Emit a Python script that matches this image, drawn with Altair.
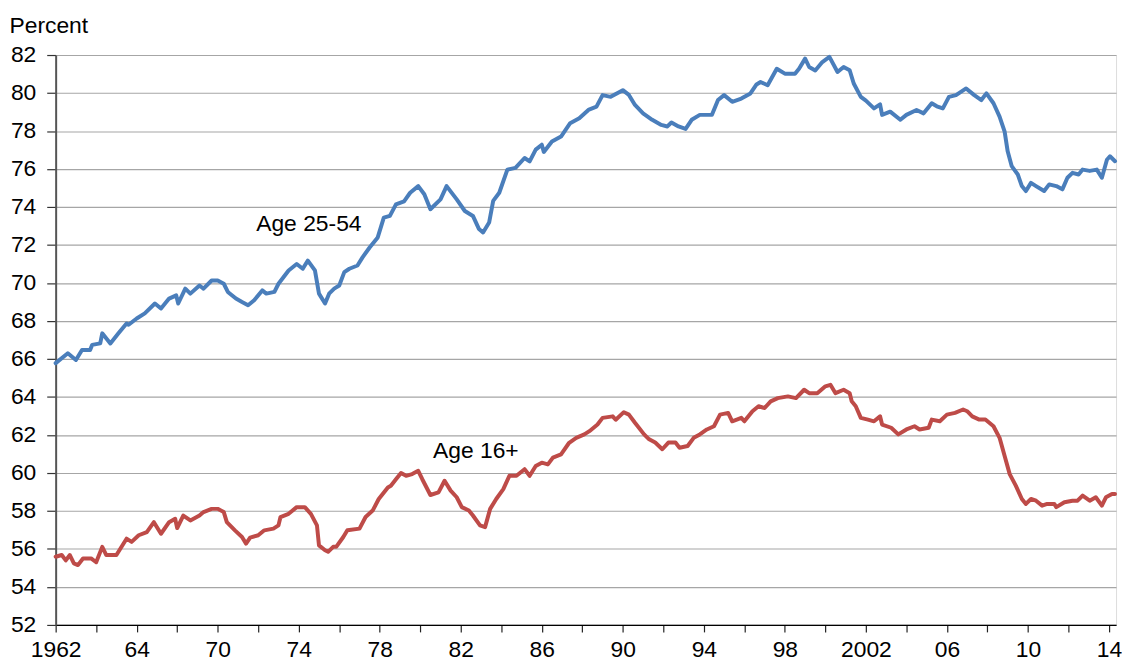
import altair as alt
import pandas as pd

# ---- data ----
prime_years = [1962.0, 1962.6, 1963.0, 1963.3, 1963.7, 1963.8, 1964.2, 1964.3, 1964.7, 1965.1,
               1965.5, 1965.6, 1966.0, 1966.4, 1966.9, 1967.2, 1967.6, 1967.95, 1968.05, 1968.4,
               1968.65, 1969.1, 1969.3, 1969.7, 1970.0, 1970.3, 1970.5, 1970.9, 1971.2, 1971.5,
               1971.8, 1972.2, 1972.4, 1972.8, 1973.0, 1973.5, 1973.9, 1974.2, 1974.45, 1974.8,
               1975.0, 1975.3, 1975.5, 1975.75, 1976.0, 1976.25, 1976.5, 1976.9, 1977.15, 1977.5,
               1977.9, 1978.2, 1978.5, 1978.8, 1979.2, 1979.5, 1979.9, 1980.2, 1980.5, 1981.0,
               1981.3, 1981.8, 1982.2, 1982.6, 1982.9, 1983.1, 1983.4, 1983.6, 1983.9, 1984.3,
               1984.7, 1985.15, 1985.4, 1985.7, 1986.0, 1986.1, 1986.5, 1986.95, 1987.4, 1987.85,
               1988.3, 1988.7, 1989.0, 1989.4, 1990.0, 1990.3, 1990.6, 1991.0, 1991.45, 1991.9,
               1992.2, 1992.4, 1992.75, 1993.1, 1993.4, 1993.8, 1994.4, 1994.7, 1995.0, 1995.4,
               1995.85, 1996.3, 1996.6, 1996.8, 1997.15, 1997.6, 1998.0, 1998.5, 1998.7, 1999.0,
               1999.2, 1999.5, 1999.85, 2000.2, 2000.6, 2000.9, 2001.2, 2001.4, 2001.75, 2002.0,
               2002.4, 2002.7, 2002.8, 2003.2, 2003.7, 2004.0, 2004.5, 2004.85, 2005.25, 2005.5,
               2005.8, 2006.1, 2006.45, 2006.95, 2007.35, 2007.7, 2007.95, 2008.3, 2008.6, 2008.85,
               2009.0, 2009.2, 2009.5, 2009.7, 2009.9, 2010.15, 2010.4, 2010.8, 2011.05, 2011.4,
               2011.7, 2011.95, 2012.2, 2012.5, 2012.7, 2013.05, 2013.4, 2013.65, 2013.9, 2014.05,
               2014.3]
prime_vals = [65.78, 66.30, 65.95, 66.47, 66.47, 66.74, 66.82, 67.35, 66.82, 67.35,
              67.87, 67.80, 68.13, 68.40, 68.92, 68.66, 69.18, 69.35, 68.92, 69.70,
              69.44, 69.87, 69.70, 70.13, 70.13, 69.96, 69.53, 69.18, 69.00, 68.83,
              69.09, 69.61, 69.44, 69.53, 69.96, 70.66, 71.00, 70.75, 71.18, 70.66,
              69.44, 68.92, 69.44, 69.70, 69.87, 70.57, 70.75, 70.92, 71.35, 71.87,
              72.40, 73.44, 73.53, 74.14, 74.30, 74.75, 75.10, 74.67, 73.88, 74.40,
              75.10, 74.40, 73.79, 73.53, 72.84, 72.66, 73.18, 74.32, 74.75, 75.97,
              76.06, 76.58, 76.40, 77.02, 77.28, 76.90, 77.45, 77.71, 78.41, 78.67,
              79.11, 79.28, 79.89, 79.80, 80.15, 79.90, 79.37, 78.93, 78.59, 78.32,
              78.24, 78.45, 78.24, 78.11, 78.59, 78.85, 78.85, 79.63, 79.89, 79.54,
              79.71, 79.98, 80.45, 80.58, 80.41, 81.28, 81.02, 81.02, 81.28, 81.81,
              81.37, 81.19, 81.63, 81.90, 81.11, 81.37, 81.20, 80.50, 79.80, 79.60,
              79.19, 79.40, 78.85, 79.02, 78.59, 78.85, 79.11, 78.93, 79.46, 79.30,
              79.19, 79.80, 79.89, 80.24, 79.89, 79.63, 79.98, 79.46, 78.76, 77.97,
              76.93, 76.15, 75.71, 75.10, 74.84, 75.27, 75.10, 74.84, 75.19, 75.10,
              74.93, 75.54, 75.80, 75.71, 75.97, 75.90, 75.97, 75.54, 76.49, 76.67,
              76.41]

all_years = [1962.0, 1962.3, 1962.5, 1962.7, 1962.9, 1963.1, 1963.35, 1963.75, 1964.0, 1964.3,
             1964.5, 1965.0, 1965.2, 1965.5, 1965.75, 1966.1, 1966.5, 1966.85, 1967.2, 1967.6,
             1967.9, 1968.0, 1968.3, 1968.65, 1969.1, 1969.3, 1969.7, 1970.0, 1970.3, 1970.45,
             1970.85, 1971.2, 1971.4, 1971.6, 1972.0, 1972.3, 1972.75, 1973.0, 1973.1, 1973.5,
             1973.9, 1974.3, 1974.6, 1974.9, 1975.0, 1975.3, 1975.45, 1975.7, 1975.85, 1976.2,
             1976.4, 1977.0, 1977.3, 1977.65, 1977.95, 1978.4, 1978.55, 1978.8, 1979.05, 1979.3,
             1979.6, 1979.9, 1980.1, 1980.5, 1980.9, 1981.2, 1981.5, 1981.8, 1982.05, 1982.4,
             1982.6, 1982.95, 1983.2, 1983.45, 1983.75, 1984.1, 1984.4, 1984.75, 1985.15, 1985.4,
             1985.7, 1986.0, 1986.3, 1986.55, 1986.95, 1987.35, 1987.7, 1988.1, 1988.35, 1988.75,
             1989.0, 1989.5, 1989.65, 1990.05, 1990.3, 1990.6, 1991.05, 1991.3, 1991.6, 1991.95,
             1992.25, 1992.6, 1992.8, 1993.2, 1993.5, 1993.8, 1994.15, 1994.5, 1994.8, 1995.2,
             1995.4, 1995.85, 1996.0, 1996.4, 1996.7, 1997.0, 1997.3, 1997.65, 1998.15, 1998.55,
             1998.95, 1999.2, 1999.6, 2000.0, 2000.25, 2000.5, 2000.9, 2001.2, 2001.3, 2001.5,
             2001.75, 2002.1, 2002.4, 2002.7, 2002.8, 2003.25, 2003.6, 2004.0, 2004.4, 2004.65,
             2005.1, 2005.25, 2005.65, 2006.0, 2006.4, 2006.8, 2007.0, 2007.25, 2007.6, 2007.9,
             2008.3, 2008.6, 2008.85, 2009.1, 2009.4, 2009.7, 2009.9, 2010.15, 2010.4, 2010.7,
             2010.95, 2011.3, 2011.4, 2011.8, 2012.2, 2012.45, 2012.7, 2013.05, 2013.35, 2013.65,
             2013.85, 2014.15, 2014.3]
all_vals = [55.59, 55.68, 55.40, 55.68, 55.24, 55.15, 55.50, 55.50, 55.30, 56.11,
            55.68, 55.68, 56.02, 56.54, 56.37, 56.72, 56.89, 57.41, 56.80, 57.41,
            57.59, 57.10, 57.76, 57.50, 57.76, 57.94, 58.11, 58.11, 57.94, 57.41,
            56.98, 56.63, 56.28, 56.60, 56.72, 56.98, 57.07, 57.24, 57.68, 57.85,
            58.20, 58.20, 57.85, 57.24, 56.19, 55.93, 55.85, 56.11, 56.11, 56.63,
            56.98, 57.07, 57.68, 58.02, 58.63, 59.24, 59.33, 59.67, 60.00, 59.85,
            59.94, 60.11, 59.67, 58.84, 58.98, 59.59, 59.07, 58.72, 58.20, 58.02,
            57.76, 57.24, 57.15, 58.11, 58.63, 59.15, 59.85, 59.85, 60.20, 59.85,
            60.37, 60.54, 60.45, 60.81, 60.98, 61.59, 61.85, 62.03, 62.20, 62.55,
            62.90, 62.98, 62.80, 63.20, 63.07, 62.64, 62.03, 61.77, 61.60, 61.25,
            61.60, 61.60, 61.33, 61.42, 61.85, 62.03, 62.29, 62.46, 63.07, 63.16,
            62.72, 62.90, 62.72, 63.25, 63.51, 63.42, 63.77, 63.94, 64.03, 63.94,
            64.38, 64.20, 64.20, 64.56, 64.64, 64.20, 64.38, 64.20, 63.77, 63.51,
            62.90, 62.81, 62.72, 62.98, 62.55, 62.38, 62.03, 62.29, 62.46, 62.29,
            62.38, 62.81, 62.72, 63.07, 63.16, 63.34, 63.25, 62.98, 62.81, 62.81,
            62.46, 61.85, 60.89, 59.94, 59.33, 58.63, 58.37, 58.63, 58.54, 58.28,
            58.37, 58.37, 58.20, 58.46, 58.54, 58.54, 58.81, 58.54, 58.72, 58.28,
            58.72, 58.89, 58.89]

series_names = ["Age 25-54", "Age 16+"]
series_colors = ["#4a7ebb", "#be4b48"]

label_text = ["Age 25-54", "Age 16+"]
label_year = [1971.9, 1980.63]
label_val = [73.1, 61.15]

tick_years = list(range(1962, 2015, 2))
tick_label_years = [1962, 1966, 1970, 1974, 1978, 1982, 1986, 1990, 1994, 1998, 2002, 2006, 2010, 2014]
tick_labels = ["1962", "64", "70", "74", "78", "82", "86", "90", "94", "98", "2002", "06", "10", "14"]
y_ticks = list(range(52, 83, 2))

# ---- build tables ----
df = pd.concat([
    pd.DataFrame({"year": prime_years, "value": prime_vals, "series": series_names[0]}),
    pd.DataFrame({"year": all_years, "value": all_vals, "series": series_names[1]}),
])
labels_df = pd.DataFrame({"year": label_year, "value": label_val, "text": label_text})

expr = "''"
for yr, lab in reversed(list(zip(tick_label_years, tick_labels))):
    expr = f"datum.value == {yr} ? '{lab}' : ({expr})"

FONT = "Liberation Sans"
FS = 23

x_scale = alt.Scale(domain=[1962, 2014.35], nice=False, zero=False)
y_scale = alt.Scale(domain=[52, 82], nice=False, zero=False)

lines = alt.Chart(df).mark_line(strokeWidth=4, interpolate="linear",
                                strokeJoin="round", strokeCap="round").encode(
    x=alt.X("year:Q", scale=x_scale,
            axis=alt.Axis(values=tick_years, tickCount=len(tick_years) + 5, labelExpr=expr,
                          title=None, grid=False,
                          domainColor="#000000", domainWidth=1.2, tickColor="#222222",
                          tickSize=7, tickWidth=1.2, labelPadding=7, labelFontSize=FS,
                          labelFont=FONT, labelColor="#000000", labelOverlap=False,
                          labelFlush=False)),
    y=alt.Y("value:Q", scale=y_scale,
            axis=alt.Axis(values=y_ticks, tickCount=len(y_ticks) + 5,
                          title="Percent", titleAngle=0, titleAlign="left",
                          titleBaseline="alphabetic", titleX=-47, titleY=-23,
                          titleFont=FONT, titleFontSize=FS, titleFontWeight="normal",
                          titleColor="#000000", grid=True, gridColor="#a6a6a6", gridWidth=1.2,
                          domainColor="#555555", domainWidth=2, tickColor="#333333",
                          tickSize=9, tickWidth=1.2, labelPadding=11, labelFontSize=FS,
                          labelFont=FONT, labelColor="#000000", format="d",
                          labelOverlap=False, labelFlush=False)),
    color=alt.Color("series:N", scale=alt.Scale(domain=series_names, range=series_colors),
                    legend=None),
    detail="series:N",
)

texts = alt.Chart(labels_df).mark_text(align="left", baseline="middle", font=FONT,
                                       fontSize=FS, color="#000000").encode(
    x=alt.X("year:Q", scale=x_scale),
    y=alt.Y("value:Q", scale=y_scale),
    text="text:N",
)

chart = alt.layer(lines, texts).properties(
    width=1068, height=574,
    autosize=alt.AutoSizeParams(type="none"),
    padding={"left": 48, "top": 45, "right": 6, "bottom": 40},
).configure_view(stroke=None).configure(background="#ffffff")

chart.save("out.html", embed_options={"renderer": "svg", "actions": False})
